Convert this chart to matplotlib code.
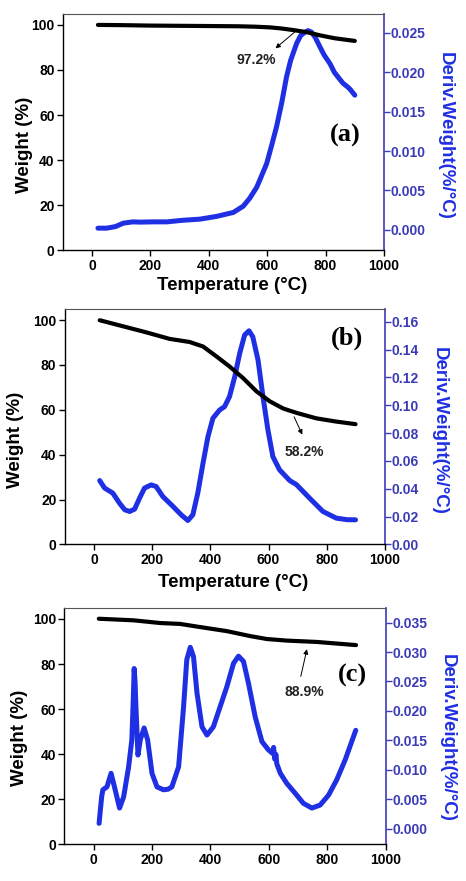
import matplotlib
matplotlib.use("Agg")
import matplotlib.pyplot as plt

plt.rcParams['font.family'] = ['Liberation Sans', 'DejaVu Sans']

# ---------------- data ----------------
# (a)
a_w_T = [20, 100, 200, 300, 400, 500, 560, 610, 650, 690, 735, 780, 830, 870, 900]
a_w = [100.0, 99.9, 99.7, 99.6, 99.5, 99.4, 99.2, 98.9, 98.4, 97.7, 96.8, 95.4, 94.1, 93.4, 92.9]
a_d_T = [20, 50, 80, 107, 140, 164, 210, 256, 310, 370, 427, 484, 518, 540, 564,
         580, 598, 615, 632, 650, 666, 680, 701, 715, 730, 740, 752, 765, 781,
         795, 815, 830, 849, 860, 877, 885, 900]
a_d = [0.0002, 0.0002, 0.0004, 0.00084, 0.0010, 0.00097, 0.0010, 0.0010, 0.0012,
       0.00135, 0.0017, 0.0022, 0.0030, 0.0040, 0.0054, 0.0068, 0.0084, 0.0107,
       0.0131, 0.0162, 0.0194, 0.0215, 0.0237, 0.0247, 0.0251, 0.0253, 0.0251,
       0.0244, 0.0232, 0.0222, 0.0211, 0.0200, 0.0191, 0.0186, 0.0181, 0.0178,
       0.0171]

# (b)
b_w_T = [20, 100, 180, 260, 329, 375, 421, 466, 512, 558, 604, 650, 673, 700,
         764, 830, 899]
b_w = [99.9, 97.2, 94.5, 91.6, 90.2, 88.2, 83.8, 79.3, 74.2, 68.3, 63.8, 60.6,
       59.6, 58.5, 56.2, 54.8, 53.6]
b_d_T = [20, 37, 65, 88, 106, 123, 140, 157, 174, 197, 214, 237, 272, 300, 323,
         340, 357, 375, 392, 409, 432, 449, 466, 484, 501, 518, 533, 546, 564,
         581, 598, 615, 638, 673, 696, 741, 787, 833, 870, 899]
b_d = [0.0459, 0.0405, 0.0369, 0.0297, 0.0249, 0.0237, 0.0254, 0.0333, 0.0405,
       0.0428, 0.0416, 0.0344, 0.0273, 0.0213, 0.0172, 0.0213, 0.0369, 0.0584,
       0.0775, 0.0907, 0.0966, 0.0990, 0.1062, 0.1205, 0.1373, 0.1505, 0.1535,
       0.1492, 0.1325, 0.1062, 0.0823, 0.0631, 0.0536, 0.0459, 0.0430, 0.0333,
       0.0237, 0.0189, 0.0178, 0.0177]

# (c)
c_w_T = [18, 137, 228, 296, 365, 456, 536, 593, 661, 764, 898]
c_w = [100.1, 99.4, 98.2, 97.8, 96.4, 94.6, 92.4, 91.1, 90.4, 89.8, 88.4]
c_d_T = [19, 23, 28, 32, 46, 60, 74, 89, 103, 120, 131, 136, 139, 142, 145, 152,
         160, 173, 185, 200, 217, 239, 255, 268, 291, 308, 319, 331, 342, 354,
         371, 388, 410, 433, 456, 479, 496, 513, 530, 553, 576, 598, 612, 616,
         620, 624, 627, 639, 661, 690, 718, 747, 775, 804, 832, 861, 897]
c_d = [0.0009, 0.0030, 0.0055, 0.0066, 0.0071, 0.0094, 0.0066, 0.0035, 0.0054,
       0.0105, 0.0151, 0.0220, 0.0272, 0.0250, 0.0207, 0.0125, 0.0151, 0.0171,
       0.0151, 0.0094, 0.0071, 0.0066, 0.0067, 0.0071, 0.0105, 0.0207, 0.0287,
       0.0308, 0.0292, 0.0230, 0.0173, 0.0159, 0.0173, 0.0207, 0.0241, 0.0281,
       0.0293, 0.0284, 0.0247, 0.0190, 0.0148, 0.0134, 0.0128, 0.0138, 0.0118,
       0.0126, 0.0110, 0.0094, 0.0077, 0.0060, 0.0043, 0.0035, 0.0040, 0.0057,
       0.0083, 0.0117, 0.0167]

weight_ticks = [0, 20, 40, 60, 80, 100]
temp_ticks = [0, 200, 400, 600, 800, 1000]
a_rticks = [0.000, 0.005, 0.010, 0.015, 0.020, 0.025]
b_rticks = [0.00, 0.02, 0.04, 0.06, 0.08, 0.10, 0.12, 0.14, 0.16]
c_rticks = [0.000, 0.005, 0.010, 0.015, 0.020, 0.025, 0.030, 0.035]

BLUE = '#1f2fe3'
AXBLUE = '#3b3bb8'

fig = plt.figure(figsize=(4.66, 8.81), dpi=100)

panels = [
    dict(rect=[0.135, 0.716, 0.689, 0.268], wT=a_w_T, w=a_w, dT=a_d_T, d=a_d,
         rlim=(-0.0026, 0.0274), rticks=a_rticks, rfmt='{:.3f}', letter='(a)',
         letter_pos=(0.878, 0.487), xlabel=True, wl=(-0.121, 0.445),
         dl=(1.19, 0.483), xl=(0.526, -0.148),
         ann=dict(text='97.2%', xy=(621, 88.8), xytext=(712, 98.8), tpos=(562, 84.6))),
    dict(rect=[0.139, 0.382, 0.687, 0.267], wT=b_w_T, w=b_w, dT=b_d_T, d=b_d,
         rlim=(0.0, 0.169), rticks=b_rticks, rfmt='{:.2f}', letter='(b)',
         letter_pos=(0.881, 0.877), xlabel=True, wl=(-0.153, 0.444),
         dl=(1.17, 0.482), xl=(0.526, -0.16),
         ann=dict(text='58.2%', xy=(720, 47.8), xytext=(684, 58.0), tpos=(722, 41.1))),
    dict(rect=[0.138, 0.0417, 0.690, 0.268], wT=c_w_T, w=c_w, dT=c_d_T, d=c_d,
         rlim=(-0.00265, 0.03745), rticks=c_rticks, rfmt='{:.3f}', letter='(c)',
         letter_pos=(0.895, 0.713), xlabel=False, wl=(-0.138, 0.45),
         dl=(1.192, 0.452), xl=None,
         ann=dict(text='88.9%', xy=(732, 87.8), xytext=(707, 73.3), tpos=(720, 67.8))),
]

for p in panels:
    ax = fig.add_axes(p['rect'])
    ax2 = ax.twinx()
    ax.set_zorder(ax2.get_zorder() + 1)
    ax.patch.set_visible(False)

    ax.plot(p['wT'], p['w'], color='black', lw=3.0, solid_capstyle='round',
            solid_joinstyle='round')
    ax2.plot(p['dT'], p['d'], color=BLUE, lw=3.6, solid_capstyle='round',
             solid_joinstyle='round')

    ax.set_xlim(-100, 1000)
    ax.set_ylim(0, 104.8)
    ax.set_xticks(temp_ticks)
    ax.set_yticks(weight_ticks)
    ax2.set_ylim(*p['rlim'])
    ax2.set_yticks(p['rticks'])
    ax2.set_yticklabels([p['rfmt'].format(v) for v in p['rticks']])

    for lab in ax.get_xticklabels() + ax.get_yticklabels():
        lab.set_fontweight('bold')
        lab.set_fontsize(10)
    for lab in ax2.get_yticklabels():
        lab.set_fontweight('bold')
        lab.set_fontsize(10)
        lab.set_color(AXBLUE)

    ax.tick_params(direction='out', length=4, width=1, pad=2)
    ax2.tick_params(axis='y', direction='out', length=4, width=1, color=AXBLUE, pad=1)

    for s in ['left', 'bottom']:
        ax.spines[s].set_color('black')
        ax.spines[s].set_linewidth(1.0)
    ax.spines['top'].set_color('#555555')
    ax.spines['top'].set_linewidth(0.8)
    ax2.spines['right'].set_color(AXBLUE)
    ax2.spines['right'].set_linewidth(1.2)
    ax.spines['right'].set_visible(False)
    ax2.spines['left'].set_visible(False)
    ax2.spines['top'].set_visible(False)
    ax2.spines['bottom'].set_visible(False)

    ax.set_ylabel('Weight (%)', fontsize=13.5, fontweight='bold',
                  va='center', ha='center')
    ax.yaxis.set_label_coords(*p['wl'])
    if p['xlabel']:
        ax.set_xlabel('Temperature (°C)', fontsize=13.5, fontweight='bold',
                      va='center', ha='center')
        ax.xaxis.set_label_coords(*p['xl'])
    ax2.set_ylabel('Deriv.Weight(%/°C)', fontsize=13.5, fontweight='bold',
                   color=BLUE, rotation=270, va='center', ha='center')
    ax2.yaxis.set_label_coords(*p['dl'])

    ax.text(p['letter_pos'][0], p['letter_pos'][1], p['letter'], transform=ax.transAxes,
            fontsize=19, fontweight='bold', family='Liberation Serif',
            ha='center', va='center')

    an = p['ann']
    ax.annotate('', xy=an['xy'], xytext=an['xytext'],
                arrowprops=dict(arrowstyle='-|>', color='black', lw=0.7,
                                mutation_scale=7))
    ax.text(an['tpos'][0], an['tpos'][1], an['text'], fontsize=10,
            fontweight='bold', ha='center', va='center', color='#222222')

fig.savefig('out.png', dpi=100)
